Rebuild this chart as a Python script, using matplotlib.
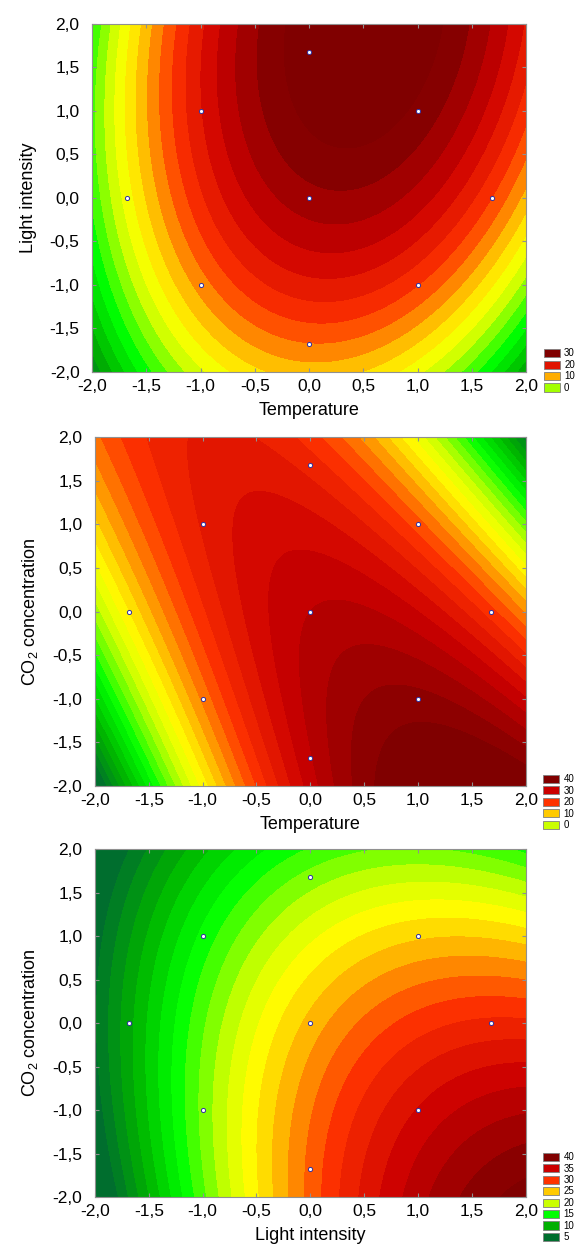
import numpy as np
import matplotlib.pyplot as plt
from matplotlib.colors import LinearSegmentedColormap, Normalize
from matplotlib.patches import Patch
from matplotlib.ticker import FuncFormatter

plt.rcParams['font.family'] = ['Liberation Sans', 'DejaVu Sans']

# fitted second order models: b0, b1(x), b2(y), b11(x^2), b22(y^2), b12(xy)
coef_temp_light = [27.0, 3.4, 5.75, -6.1, -1.6, 1.4]
coef_temp_co2 = [32.0, 4.0, -2.5, -6.5, -1.6, -7.4]
coef_light_co2 = [25.5, 6.5, -3.1, -1.8, -0.8, -1.6]

# central composite design points (coded)
design_x = [0.0, -1.0, 1.0, -1.0, 1.0, -1.68, 1.68, 0.0, 0.0]
design_y = [0.0, -1.0, -1.0, 1.0, 1.0, 0.0, 0.0, -1.68, 1.68]

xlabels = ['Temperature', 'Temperature', 'Light intensity']
ylabels = ['Light intensity', r'CO$_\mathregular{2}$ concentration', r'CO$_\mathregular{2}$ concentration']
legend_vals = [[30, 20, 10, 0], [40, 30, 20, 10, 0], [40, 35, 30, 25, 20, 15, 10, 5]]
color_ranges = [(-20, 30), (-30, 40), (5, 40)]
level_steps = [2.5, 2.5, 1.5]
legend_y = [-0.06, -0.126, -0.13]

# spectrum taken from the 8-step legend of the last panel
cmap = LinearSegmentedColormap.from_list('statistica', [
    (0.0, '#006e2e'), (0.143, '#00b000'), (0.286, '#00ff00'), (0.429, '#ccff00'),
    (0.5, '#ffff00'), (0.571, '#ffcc00'), (0.714, '#ff3300'), (0.857, '#cc0000'),
    (1.0, '#800000')])

coefs = [coef_temp_light, coef_temp_co2, coef_light_co2]
positions = [[0.159, 0.7022, 0.750, 0.2786],
             [0.164, 0.3707, 0.744, 0.2794],
             [0.164, 0.0416, 0.744, 0.2786]]

g = np.linspace(-2, 2, 300)
X, Y = np.meshgrid(g, g)

fmt = FuncFormatter(lambda v, p: ('%.1f' % v).replace('.', ','))

fig = plt.figure(figsize=(5.79, 12.49), dpi=100)

for i in range(3):
    b0, b1, b2, b11, b22, b12 = coefs[i]
    Z = b0 + b1 * X + b2 * Y + b11 * X**2 + b22 * Y**2 + b12 * X * Y
    vmin, vmax = color_ranges[i]
    norm = Normalize(vmin, vmax)
    levels = np.arange(np.floor(Z.min()), Z.max() + level_steps[i], level_steps[i])

    ax = fig.add_axes(positions[i])
    ax.contourf(X, Y, Z, levels=levels, cmap=cmap, norm=norm, extend='both')
    ax.scatter(design_x, design_y, s=9, c='white', edgecolors='#3030a0', linewidths=0.7, zorder=3)

    ax.set_xlim(-2, 2)
    ax.set_ylim(-2, 2)
    ax.set_xticks(np.arange(-2, 2.01, 0.5))
    ax.set_yticks(np.arange(-2, 2.01, 0.5))
    ax.xaxis.set_major_formatter(fmt)
    ax.yaxis.set_major_formatter(fmt)
    ax.tick_params(direction='in', top=True, right=True, length=3, color='#909090',
                   labelsize=12.5)
    ax.tick_params(axis='x', pad=5)
    ax.tick_params(axis='y', pad=9)
    for s in ax.spines.values():
        s.set_color('#909090')
        s.set_linewidth(0.8)
    ax.set_xlabel(xlabels[i], fontsize=13, labelpad=6)
    ax.set_ylabel(ylabels[i], fontsize=13, labelpad=9)

    handles = [Patch(facecolor=cmap(norm(v)), edgecolor='#808080', linewidth=0.6) for v in legend_vals[i]]
    ax.legend(handles, [str(v) for v in legend_vals[i]], loc='lower left',
              bbox_to_anchor=(1.04, legend_y[i]), frameon=False, fontsize=7,
              handlelength=1.7, handleheight=0.9, labelspacing=0.15,
              handletextpad=0.4, borderpad=0, borderaxespad=0)

fig.savefig('out.png', dpi=100)
